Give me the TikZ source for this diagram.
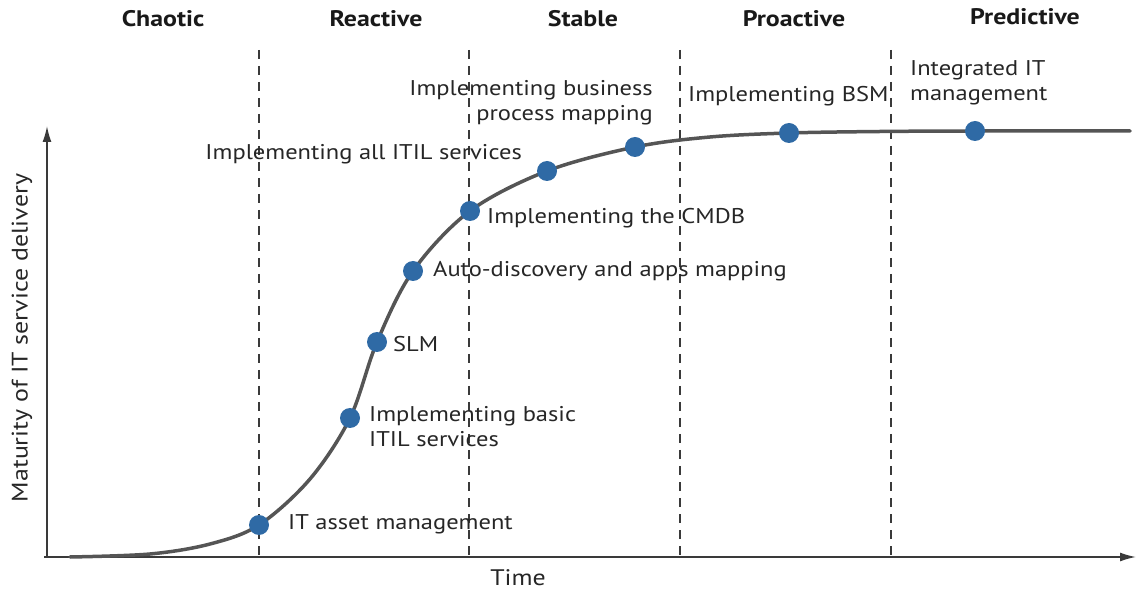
\documentclass[tikz,border=0pt]{standalone}
\usepackage{fontspec}
\setmainfont{PT Sans}
\newfontfamily\labelfont[FakeStretch=1.15]{PT Sans}
\usetikzlibrary{arrows.meta}
\definecolor{dotblue}{HTML}{2F6AA5}
\definecolor{curvegray}{HTML}{555555}
\definecolor{axisgray}{HTML}{3A3A3A}
\tikzset{
  axis/.style={line width=1.6pt, draw=axisgray, -{Latex[length=16pt,width=9pt]}},
  divider/.style={line width=1.3pt, draw=axisgray, dash pattern=on 9pt off 7pt},
  curveline/.style={line width=3.5pt, draw=curvegray},
  dotnode/.style={circle, fill=dotblue, inner sep=0pt, minimum size=20pt},
  lbl/.style={font=\labelfont\fontsize{21.3}{25}\selectfont, inner sep=0pt, text=black!85},
  axlbl/.style={font=\labelfont\fontsize{22.5}{26}\selectfont, inner sep=0pt, text=black!85},
  head/.style={font=\labelfont\fontsize{22.5}{26}\selectfont\bfseries, inner sep=0pt, text=black!90},
}
\begin{document}
\begin{tikzpicture}[x=1pt,y=-1pt]
\useasboundingbox (0,0) rectangle (1141,593);
% headers
\node[head] (h1) at (163,19) {Chaotic};
\node[head] (h2) at (376,19) {Reactive};
\node[head] (h3) at (583,19) {Stable};
\node[head] (h4) at (794,19) {Proactive};
\node[head] (h5) at (1025,17) {Predictive};
% dividers
\foreach \x/\n in {259/a,469/b,680/c,891/d}{
  \coordinate (t\n) at (\x,50);
  \coordinate (b\n) at (\x,557);
  \draw[divider] (t\n) -- (b\n);
}
% axes
\coordinate (o) at (47,557);
\coordinate (ytop) at (47,126);
\coordinate (xstart) at (44,557);
\coordinate (xend) at (1136,557);
\draw[axis] (o) -- (ytop);
\draw[axis] (xstart) -- (xend);
\node[axlbl, rotate=90] (ylab) at (22,338) {Maturity of IT service delivery};
\node[axlbl] (xlab) at (518,578) {Time};
% curve
\draw[curveline, line cap=round] plot[smooth, tension=0.55] coordinates {
 (70,557) (150,554) (210,544) (259,525) (310,479) (350,418) (377,342)
 (413,271) (470,211) (547,171) (635,147) (710,137) (789,133) (880,131.5) (975,131) (1130,131)};
% dots
\node[dotnode] (d1) at (259,525) {};
\node[dotnode] (d2) at (350,418) {};
\node[dotnode] (d3) at (377,342) {};
\node[dotnode] (d4) at (413,271) {};
\node[dotnode] (d5) at (470,211) {};
\node[dotnode] (d6) at (547,171) {};
\node[dotnode] (d7) at (635,147) {};
\node[dotnode] (d8) at (789,133) {};
\node[dotnode] (d9) at (975,131) {};
% labels
\node[lbl, anchor=west] (l1) at (288,524) {IT asset management};
\node[lbl, anchor=north west, align=left] (l2) at (369,406) {Implementing basic\\ITIL services};
\node[lbl, anchor=west] (l3) at (393,344) {SLM};
\node[lbl, anchor=west] (l4) at (433,271) {Auto-discovery and apps mapping};
\node[lbl, anchor=west] (l5) at (487,218) {Implementing the CMDB};
\node[lbl, anchor=east] (l6) at (522,154) {Implementing all ITIL services};
\node[lbl, anchor=north east, align=right] (l7) at (653,80) {Implementing business\\process mapping};
\node[lbl, anchor=west] (l8) at (688,96) {Implementing BSM};
\node[lbl, anchor=north west, align=left] (l9) at (910,60) {Integrated IT\\management};
\end{tikzpicture}
\end{document}
